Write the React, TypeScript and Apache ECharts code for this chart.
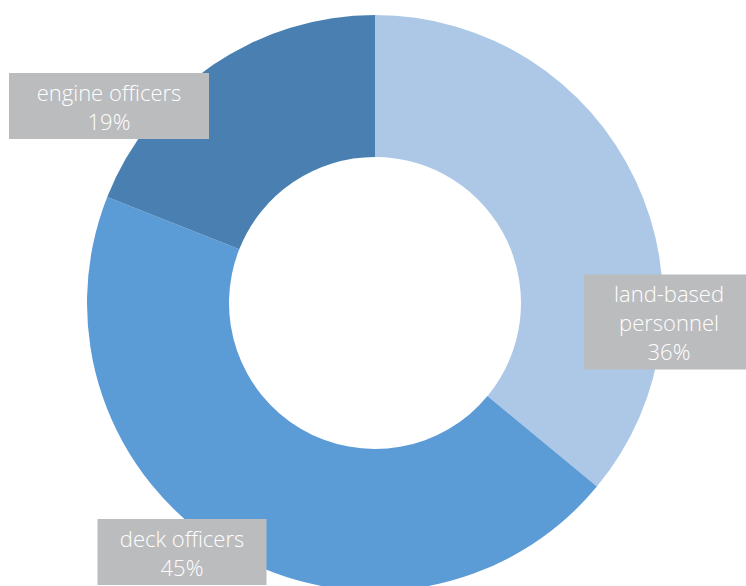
import React, { useEffect, useRef } from "react";
import * as echarts from "echarts";

const categories = ["land-based personnel", "deck officers", "engine officers"];
const shares = [36, 45, 19];
const colors = ["#adc8e6", "#5b9bd6", "#4a80b1"];
const labelCenters: [number, number][] = [
  [669, 322],
  [182, 552],
  [109, 106],
];
const labelWidths = [170, 169, 200];

export default function App() {
  const ref = useRef<HTMLDivElement>(null);
  useEffect(() => {
    if (!ref.current) return;
    const chart = echarts.init(ref.current, undefined, { renderer: "svg" });
    chart.setOption({
      animation: false,
      backgroundColor: "#ffffff",
      series: [
        {
          type: "pie",
          center: [375, 303],
          radius: [146, 288],
          startAngle: 90,
          clockwise: true,
          avoidLabelOverlap: false,
          data: categories.map((c, i) => ({
            name: c,
            value: shares[i],
            itemStyle: { color: colors[i] },
            label: { width: labelWidths[i] },
          })),
          label: {
            show: true,
            position: "outside",
            formatter: (p: any) =>
              (p.name === "land-based personnel" ? "land-based\npersonnel" : p.name) +
              "\n" +
              Math.round(p.percent) +
              "%",
            color: "#ffffff",
            backgroundColor: "#bbbcbe",
            fontFamily: "Open Sans",
            fontWeight: 300,
            fontSize: 22,
            lineHeight: 29,
            padding: [4, 0, 4, 0],
            align: "center",
            overflow: "none",
          },
          labelLine: { show: false },
          labelLayout: (params: any) => ({
            x: labelCenters[params.dataIndex][0],
            y: labelCenters[params.dataIndex][1],
            align: "center",
            verticalAlign: "middle",
            hideOverlap: false,
          }),
          emphasis: { disabled: true },
        },
      ],
    });
    return () => chart.dispose();
  }, []);
  return (
    <div
      ref={ref}
      style={{ position: "fixed", left: 0, top: 0, width: 746, height: 586 }}
    />
  );
}
